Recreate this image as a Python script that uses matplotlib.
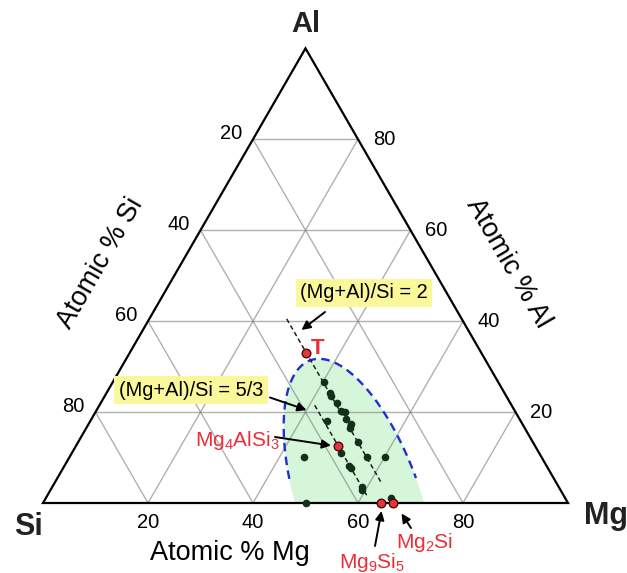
import numpy as np
import matplotlib
matplotlib.use('Agg')
import matplotlib.pyplot as plt
from matplotlib.patches import Polygon

plt.rcParams['font.family'] = ['Liberation Sans', 'DejaVu Sans']
plt.rcParams['mathtext.fontset'] = 'custom'
plt.rcParams['mathtext.rm'] = 'Liberation Sans'
plt.rcParams['mathtext.it'] = 'Liberation Sans:italic'

ticks = [20, 40, 60, 80]

# measured compositions, at.% (Mg, Al), Si is the rest
sample_mg = [40.1, 42.6, 43.2, 45.0, 46.6, 47.6, 48.5, 50.0, 50.2, 53.3, 56.7, 65.7,
             45.0, 51.2, 54.2, 54.8, 58.9, 59.4, 60.1, 44.6, 50.1]
sample_al = [26.7, 24.1, 23.5, 21.9, 20.3, 20.0, 18.4, 17.4, 16.6, 13.5, 10.1, 1.0,
             18.0, 11.1, 8.1, 7.6, 3.6, 2.8, 10.1, 10.1, 0.0]

phase_names = ['T', 'Mg$_4$AlSi$_3$', 'Mg$_9$Si$_5$', 'Mg$_2$Si']
phase_mg = [33.5, 50.0, 64.3, 66.7]
phase_al = [33.1, 12.5, 0.0, 0.0]

# (Mg+Al)/Si = const lines: Si content and Al range drawn
ratio_labels = ['(Mg+Al)/Si = 2', '(Mg+Al)/Si = 5/3']
ratio_si = [100 / 3, 37.5]
ratio_al_top = [40.5, 21.5]
ratio_al_bot = [4.2, 1.5]

# outline of the shaded zone, at.% (Mg, Al)
zone_mg = [48.9, 43.6, 38.8, 35.5, 34.5, 35.4, 38.0, 40.2, 43.7, 47.5, 52.2, 56.0, 60.1, 63.9, 68.1, 73.3]
zone_al = [0.0, 5.1, 13.9, 21.2, 26.3, 29.6, 30.9, 30.9, 29.6, 27.1, 22.7, 18.3, 13.9, 10.2, 5.4, 0.0]


def tern(mg, al):
    mg = np.asarray(mg, float) / 100
    al = np.asarray(al, float) / 100
    return mg + al / 2, al * np.sqrt(3) / 2


def pix(px, py):
    # picture pixel -> plot coords
    return (px - 43) / 525, (503 - py) / 525


fig = plt.figure(figsize=(6.27, 5.73), dpi=100)
ax = fig.add_axes([0, 0, 1, 1])
ax.set_xlim(-43 / 525, 584 / 525)
ax.set_ylim(-70 / 525, 503 / 525)
ax.axis('off')

# triangle
tx, ty = tern([0, 100, 0], [0, 0, 100])
tri = Polygon(np.column_stack([tx, ty]), closed=True, fc='none', ec='k', lw=1.6, zorder=4)
ax.add_patch(tri)

# grid
for t in ticks:
    for mg, al in [([0, 100 - t], [t, t]), ([t, t], [0, 100 - t]), ([100 - t, 0], [0, 100 - t])]:
        gx, gy = tern(mg, al)
        ax.plot(gx, gy, color='#808080', alpha=0.62, lw=1, zorder=2)

# tick labels
for t in ticks:
    x, y = tern(t, 0)
    ax.text(x, y - 19 / 525, str(t), ha='center', va='center', fontsize=14.5)
    x, y = tern(0, 100 - t)
    ax.text(x - 22 / 525, y + 6 / 525, str(t), ha='center', va='center', fontsize=14.5)
    x, y = tern(100 - t, t)
    ax.text(x + 26 / 525, y, str(t), ha='center', va='center', fontsize=14.5)

# shaded zone: ellipse fitted to the outline
zx, zy = tern(zone_mg, zone_al)
cx, cy = zx.mean(), zy.mean()
u, v = zx - cx, zy - cy
coef = np.linalg.lstsq(np.column_stack([u * u, u * v, v * v, u, v]), np.ones_like(u), rcond=None)[0]
A = np.array([[coef[0], coef[1] / 2], [coef[1] / 2, coef[2]]])
b = coef[3:]
w0 = -0.5 * np.linalg.solve(A, b)
k = 1 + w0 @ A @ w0
lam, R = np.linalg.eigh(A)
th = np.linspace(0, 2 * np.pi, 400)
z = R @ (np.sqrt(k / lam)[:, None] * np.vstack([np.cos(th), np.sin(th)]))
ex, ey = z[0] + w0[0] + cx, z[1] + w0[1] + cy
i0 = np.argmin(ey)
ex, ey = np.roll(ex, -i0), np.roll(ey, -i0)

zone = Polygon(np.column_stack([ex, ey]), closed=True, fc='#d6f6da', ec='none', zorder=1)
ax.add_patch(zone)
zone.set_clip_path(Polygon(np.column_stack([tx, ty]), closed=True, transform=ax.transData))
ey_line = np.where(ey >= tern(0, 5.2)[1], ey, np.nan)
ax.plot(ex, ey_line, color='#2030d0', lw=1.7, ls=(0, (3.6, 2.3)), zorder=3)

# ratio lines
for si, a1, a2 in zip(ratio_si, ratio_al_top, ratio_al_bot):
    al = np.array([a1, a2])
    lx, ly = tern(100 - si - al, al)
    ax.plot(lx, ly, color='#202020', lw=1.1, ls=(0, (3, 2)), zorder=3)

# points
sx, sy = tern(sample_mg, sample_al)
ax.plot(sx, sy, 'o', color='#13301a', ms=5.5, mec='none', zorder=5)
px_, py_ = tern(phase_mg, phase_al)
ax.plot(px_, py_, 'o', color='#e8343c', ms=6.2, mec='#4a0c0c', mew=1, zorder=6)

# labels
red = '#e8303a'
ax.text(*pix(318, 349), phase_names[0], color=red, fontsize=16, fontweight='bold', ha='center', va='center')
ax.text(*pix(237, 440), phase_names[1], color=red, fontsize=15, ha='center', va='center')
ax.text(*pix(372, 562), phase_names[2], color=red, fontsize=15, ha='center', va='center')
ax.text(*pix(425, 543), phase_names[3], color=red, fontsize=15, ha='center', va='center')

box = dict(boxstyle='square,pad=0.22', fc='#fbf89c', ec='none')
ax.text(*pix(364, 293), ratio_labels[0], fontsize=14.4, ha='center', va='center', bbox=box, zorder=7)
ax.text(*pix(191, 390), ratio_labels[1], fontsize=14.4, ha='center', va='center', bbox=box, zorder=7)

arrows = [((325, 312), (301.5, 330)), ((270, 397.5), (306.5, 410)), ((275, 437), (331, 445.5)),
          ((375, 546), (381.5, 511)), ((411, 528), (401.5, 513.5))]
for tail, head in arrows:
    ax.annotate('', xy=pix(*head), xytext=pix(*tail),
                arrowprops=dict(arrowstyle='-|>', color='k', lw=1.4, mutation_scale=13,
                                shrinkA=0, shrinkB=0), zorder=8)

# axis titles
ax.text(*pix(230, 553), 'Atomic % Mg', fontsize=19.5, ha='center', va='center')
ax.text(*pix(101, 263), 'Atomic % Si', fontsize=19.5, ha='center', va='center', rotation=60)
ax.text(*pix(508, 263), 'Atomic % Al', fontsize=19.5, ha='center', va='center', rotation=-60)
ax.text(*pix(306, 24), 'Al', fontsize=21, fontweight='bold', ha='center', va='center', color='#222222')
ax.text(*pix(28, 527), 'Si', fontsize=22, fontweight='bold', ha='center', va='center', color='#222222')
ax.text(*pix(606, 516), 'Mg', fontsize=22, fontweight='bold', ha='center', va='center', color='#222222')

fig.savefig('out.png', dpi=100)
